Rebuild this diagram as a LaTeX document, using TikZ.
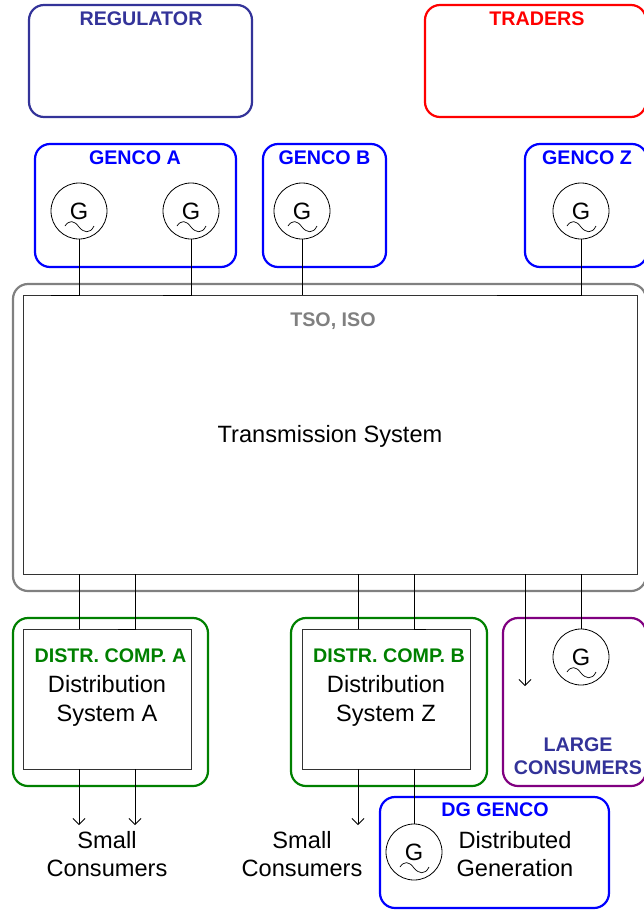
\documentclass[tikz,border=0pt]{standalone}
\usepackage{fontspec}
\setmainfont{Liberation Sans}
\usetikzlibrary{arrows.meta}

\definecolor{regblue}{RGB}{51,51,153}
\definecolor{distgreen}{RGB}{0,128,0}
\definecolor{tsogray}{RGB}{128,128,128}
\definecolor{lcpurple}{RGB}{128,0,128}

\tikzset{
  orgbox/.style={draw=#1,line width=2.2pt,rounded corners=15pt,inner sep=0,outer sep=0},
  sysbox/.style={draw=black!80,line width=.9pt,inner sep=0,outer sep=0},
  orgname/.style={text=#1,font=\fontsize{19.7}{23.5}\selectfont\bfseries,align=center,inner sep=0},
  systext/.style={font=\fontsize{23.6}{28.5}\selectfont,align=center,inner sep=0},
  wire/.style={line width=.8pt},
  feed/.style={line width=.8pt,-{Straight Barb[length=6pt,width=12pt]}},
  gen/.style={circle,draw,line width=.8pt,minimum size=56pt,inner sep=0,outer sep=0,
    font=\fontsize{23.6}{28}\selectfont},
  genwave/.style={line width=.7pt},
}

\begin{document}
\begin{tikzpicture}[x=1pt,y=-1pt]
  \useasboundingbox (0,0) rectangle (644,911);

  % market actors
  \node[orgbox=regblue,minimum width=223,minimum height=112] (regulator) at (140.5,61) {};
  \node[orgbox=red,minimum width=221,minimum height=112] (traders) at (535.5,61) {};
  \node[orgname=regblue] (regname) at (141,19) {REGULATOR};
  \node[orgname=red] (tradname) at (537,19) {TRADERS};

  % generation companies
  \node[orgbox=blue,minimum width=201,minimum height=123] (gencoa) at (135.5,205.5) {};
  \node[orgbox=blue,minimum width=123,minimum height=123] (gencob) at (324.5,205.5) {};
  \node[orgbox=blue,minimum width=122,minimum height=123] (gencoz) at (586,205.5) {};
  \node[orgname=blue] (anamea) at (135,158) {GENCO A};
  \node[orgname=blue] (anameb) at (324.5,158) {GENCO B};
  \node[orgname=blue] (anamez) at (587,158) {GENCO Z};
  \node[gen] (gena) at (79,211) {G};
  \node[gen] (genb) at (191,211) {G};
  \node[gen] (genc) at (302,211) {G};
  \node[gen] (genz) at (581,211) {G};

  % transmission
  \node[orgbox=tsogray,minimum width=633,minimum height=307] (tsobox) at (329.5,437.5) {};
  \node[sysbox,minimum width=613.5,minimum height=279] (trans) at (330.25,434.5) {};
  \node[orgname=tsogray] (tsoname) at (333,321) {TSO, ISO};
  \node[systext] (transname) at (330,436) {Transmission System};

  % distribution
  \node[orgbox=distgreen,minimum width=195,minimum height=168] (compa) at (110.5,702) {};
  \node[orgbox=distgreen,minimum width=196,minimum height=168] (compb) at (389,702) {};
  \node[sysbox,minimum width=167.5,minimum height=140] (dista) at (107.25,699) {};
  \node[sysbox,minimum width=168,minimum height=140] (distz) at (386,699) {};
  \node[orgname=distgreen] (companame) at (110.5,656) {DISTR. COMP. A};
  \node[orgname=distgreen] (compbname) at (389,656) {DISTR. COMP. B};
  \node[systext] (distaname) at (107,701) {Distribution\\System A};
  \node[systext] (distzname) at (386,701) {Distribution\\System Z};

  % large consumers
  \node[orgbox=lcpurple,minimum width=143,minimum height=168] (large) at (574.5,702) {};
  \node[orgname=regblue] (largename) at (578,756) {LARGE\\CONSUMERS};
  \node[gen] (genl) at (581,657) {G};

  % distributed generation
  \node[orgbox=blue,minimum width=229,minimum height=111] (dggenco) at (494.5,852.5) {};
  \node[orgname=blue] (dgname) at (495,810) {DG GENCO};
  \node[gen] (gend) at (414,852) {G};
  \node[systext] (dgtext) at (515,854) {Distributed\\Generation};

  % consumers
  \node[systext] (smalla) at (107,854) {Small\\Consumers};
  \node[systext] (smallz) at (302,854) {Small\\Consumers};

  \foreach \g in {gena,genb,genc,genz,genl,gend}
    \draw[genwave,shift={(\g.center)}] (-14,15) .. controls (-10,9) and (-5,9) .. (0,16)
      .. controls (5,22) and (11,23) .. (15,15);

  \coordinate (busa) at (51,295);
  \coordinate (busb) at (163,295);
  \coordinate (busz) at (497,295);
  \coordinate (busc) at (118,629);
  \coordinate (busd) at (426,629);
  \coordinate (outa) at (79,825);
  \coordinate (outb) at (135,825);
  \coordinate (outz) at (358,825);
  \coordinate (outl) at (525,686);

  % connections
  \draw[wire] (gena.south) |- (busa);
  \draw[wire] (genb.south) |- (busb);
  \draw[wire] (genc.south) -- (genc.south |- trans.north);
  \draw[wire] (genz.south) |- (busz);

  \draw[wire] (outa |- trans.south) -- (outa |- dista.north);
  \draw[wire] (outb |- trans.south) |- (busc);
  \draw[wire] (outz |- trans.south) -- (outz |- distz.north);
  \draw[wire] (gend.north |- trans.south) |- (busd);
  \draw[wire] (genl.north |- trans.south) -- (genl.north);
  \draw[feed] (outl |- trans.south) -- (outl);

  \draw[feed] (outa |- dista.south) -- (outa);
  \draw[feed] (outb |- dista.south) -- (outb);
  \draw[feed] (outz |- distz.south) -- (outz);
  \draw[wire] (gend.north |- distz.south) -- (gend.north);
\end{tikzpicture}
\end{document}
